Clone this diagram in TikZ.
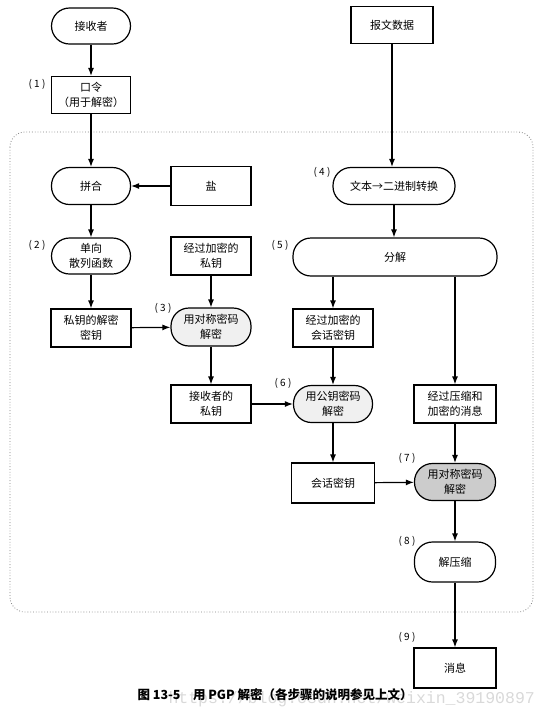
\documentclass[tikz,border=0pt]{standalone}
\usepackage{fontspec}
\setmainfont{Noto Sans CJK SC}
\newfontfamily\wmfont{Liberation Mono}
\usetikzlibrary{arrows.meta}
\begin{document}
\begin{tikzpicture}[x=1pt,y=-1pt,
  box/.style={draw, line width=1.2pt, minimum width=80pt, minimum height=38pt, align=center,
    font=\fontsize{11}{14.5}\selectfont, inner sep=1pt},
  term/.style={box, rounded corners=18pt},
  arr/.style={-{Latex[length=8pt,width=6pt]}, line width=1.2pt},
  lbl/.style={font=\fontsize{10}{12}\selectfont}]
\useasboundingbox (0,0) rectangle (548,721);
% dotted region
\draw[dotted, line width=0.8pt, gray, rounded corners=15pt] (10,132) rectangle (533,612);
% left column
\node[term, minimum width=79pt, minimum height=36pt] (recv) at (91,26) {接收者};
\node[box, minimum width=79pt, minimum height=37pt] (pw) at (91,95) {口令\\（用于解密）};
\node[term, minimum width=79pt, minimum height=37pt] (combine) at (91,186) {拼合};
\node[box, minimum height=39pt] (salt) at (211,186) {盐};
\node[term, minimum width=79pt, minimum height=36pt] (hash) at (91,256) {单向\\散列函数};
\node[box] (enckey) at (211,256) {经过加密的\\私钥};
\node[box] (deckey) at (91,328) {私钥的解密\\密钥};
\node[term, fill=gray!12] (sym1) at (211,327) {用对称密码\\解密};
\node[box] (privkey) at (211,404) {接收者的\\私钥};
% right part
\node[box, minimum width=82pt, minimum height=37pt] (msgdata) at (392,25) {报文数据};
\node[term, minimum width=122pt, minimum height=37pt] (txt) at (394,186) {文本→二进制转换};
\node[term, minimum width=204pt] (split) at (395,257) {分解};
\node[box] (encsess) at (333,328) {经过加密的\\会话密钥};
\node[term, fill=gray!12, minimum width=79pt, minimum height=37pt] (pub) at (333,404) {用公钥密码\\解密};
\node[box, minimum width=82pt] (cmsg) at (455,404) {经过压缩和\\加密的消息};
\node[box, minimum width=83pt, minimum height=40pt] (sess) at (333,483) {会话密钥};
\node[term, fill=gray!40, minimum width=81pt, minimum height=37pt] (sym2) at (455,482) {用对称密码\\解密};
\node[term, minimum width=81pt, minimum height=40pt] (decomp) at (455,562) {解压缩};
\node[box, minimum width=82pt, minimum height=40pt] (msg) at (455,668) {消息};
% step labels
\node[lbl] (l1) at (37,84) {( 1 )};
\node[lbl] (l2) at (37,245) {( 2 )};
\node[lbl] (l3) at (163,308) {( 3 )};
\node[lbl] (l4) at (322,172) {( 4 )};
\node[lbl] (l5) at (280,245) {( 5 )};
\node[lbl] (l6) at (283,383) {( 6 )};
\node[lbl] (l7) at (407,458) {( 7 )};
\node[lbl] (l8) at (407,541) {( 8 )};
\node[lbl] (l9) at (407,637) {( 9 )};
% connectors
\draw[arr] (recv) -- (pw);
\draw[arr] (pw) -- (combine);
\draw[arr] (salt) -- (combine);
\draw[arr] (combine) -- (hash);
\draw[arr] (hash) -- (deckey);
\draw[arr] (deckey) -- (sym1);
\draw[arr] (enckey) -- (sym1);
\draw[arr] (sym1) -- (privkey);
\draw[arr] (privkey) -- (pub);
\draw[arr] (msgdata) -- (msgdata |- txt.north);
\draw[arr] (txt) -- (txt |- split.north);
\draw[arr] (split.south -| encsess) -- (encsess);
\draw[arr] (split.south -| cmsg) -- (cmsg);
\draw[arr] (encsess) -- (pub);
\draw[arr] (pub) -- (sess);
\draw[arr] (sess) -- (sym2);
\draw[arr] (cmsg) -- (sym2);
\draw[arr] (sym2) -- (decomp);
\draw[arr] (decomp) -- (msg);
% caption and watermark
\node[font=\wmfont\fontsize{16.5}{18}\selectfont, text=gray!30, anchor=west] (wm) at (165,699) {https://blog.csdn.net/weixin\_39190897};
\node[font=\fontsize{12.5}{14}\selectfont\bfseries, anchor=west] (cap) at (134,695) {图 13-5\quad 用 PGP 解密（各步骤的说明参见上文）};
\end{tikzpicture}
\end{document}
